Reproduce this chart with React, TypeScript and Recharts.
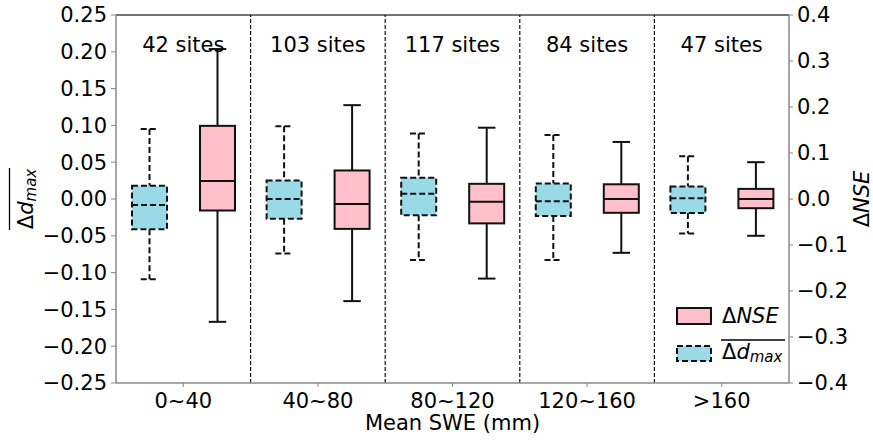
import React from 'react';
import {
  ComposedChart,
  Bar,
  XAxis,
  YAxis,
  ReferenceLine,
  Legend,
} from 'recharts';

const categories = ['0~40', '40~80', '80~120', '120~160', '>160'];
const siteCounts = [42, 103, 117, 84, 47];

// mean Δd_max (left axis)
const dmaxMin = [-0.109, -0.074, -0.083, -0.083, -0.047];
const dmaxQ1 = [-0.041, -0.027, -0.022, -0.023, -0.019];
const dmaxMed = [-0.008, 0.0, 0.007, -0.003, 0.001];
const dmaxQ3 = [0.018, 0.025, 0.029, 0.021, 0.017];
const dmaxMax = [0.095, 0.099, 0.089, 0.087, 0.058];

// ΔNSE (right axis)
const nseMin = [-0.267, -0.222, -0.173, -0.117, -0.08];
const nseQ1 = [-0.025, -0.065, -0.053, -0.03, -0.02];
const nseMed = [0.039, -0.011, -0.006, 0.0, 0.0];
const nseQ3 = [0.159, 0.062, 0.033, 0.032, 0.022];
const nseMax = [0.326, 0.204, 0.155, 0.124, 0.08];

const leftTicks = [-0.25, -0.2, -0.15, -0.1, -0.05, 0, 0.05, 0.1, 0.15, 0.2, 0.25];
const rightTicks = [-0.4, -0.3, -0.2, -0.1, 0, 0.1, 0.2, 0.3, 0.4];

const data = categories.map((c, i) => ({
  cat: c,
  sites: siteCounts[i],
  dmax: { min: dmaxMin[i], q1: dmaxQ1[i], med: dmaxMed[i], q3: dmaxQ3[i], max: dmaxMax[i] },
  nse: { min: nseMin[i], q1: nseQ1[i], med: nseMed[i], q3: nseQ3[i], max: nseMax[i] },
}));

const FONT = 'DejaVu Sans';
const CYAN = '#9AD9E6';
const PINK = '#FFC0CB';
const AXIS_GRAY = '#888888';

const fmt = (d: number) => (v: number) => {
  const s = v.toFixed(d);
  return s.startsWith('-') ? '\u2212' + s.slice(1) : s;
};

const makeBoxShape = (key: 'dmax' | 'nse', fill: string, dashed: boolean) => (props: any) => {
  const { x, y, width, height, payload } = props;
  const st = payload[key];
  const top = Math.min(y, y + height);
  const bottom = Math.max(y, y + height);
  const span = st.max - st.min;
  const py = (v: number) => top + ((bottom - top) * (st.max - v)) / span;
  const cx = x + width / 2;
  const bw = width;
  const cap = width * 0.5;
  const dash = dashed ? '6 3' : undefined;
  const sw = 2;
  const yq3 = py(st.q3);
  const yq1 = py(st.q1);
  const ym = py(st.med);
  return (
    <g>
      <line x1={cx} x2={cx} y1={top} y2={yq3} stroke="#111" strokeWidth={sw} strokeDasharray={dash} />
      <line x1={cx} x2={cx} y1={yq1} y2={bottom} stroke="#111" strokeWidth={sw} strokeDasharray={dash} />
      <line x1={cx - cap / 2} x2={cx + cap / 2} y1={top} y2={top} stroke="#111" strokeWidth={sw} strokeDasharray={dash} />
      <line x1={cx - cap / 2} x2={cx + cap / 2} y1={bottom} y2={bottom} stroke="#111" strokeWidth={sw} strokeDasharray={dash} />
      <rect x={cx - bw / 2} y={yq3} width={bw} height={yq1 - yq3} fill={fill} stroke="#111" strokeWidth={sw} strokeDasharray={dash} />
      <line x1={cx - bw / 2} x2={cx + bw / 2} y1={ym} y2={ym} stroke="#111" strokeWidth={sw} strokeDasharray={dash} />
    </g>
  );
};

const LeftLabel = (props: any) => {
  const vb = props.viewBox || { x: 0, y: 15, width: 116, height: 368 };
  const cy = vb.y + vb.height / 2;
  return (
    <g transform={`translate(0, ${cy}) rotate(-90)`}>
      <line x1={-31} x2={31} y1={9.5} y2={9.5} stroke="#000" strokeWidth={1.3} />
      <text x={0} y={33} textAnchor="middle" fontSize={21} fontFamily={FONT} fill="#000">
        <tspan>Δ</tspan>
        <tspan fontStyle="italic">d</tspan>
        <tspan fontStyle="italic" fontSize={15} dy={3}>max</tspan>
      </text>
    </g>
  );
};

const RightLabel = (props: any) => {
  const vb = props.viewBox || { x: 789, y: 15, width: 84, height: 368 };
  const cy = vb.y + vb.height / 2;
  return (
    <g transform={`translate(0, ${cy}) rotate(-90)`}>
      <text x={0} y={vb.x + 80} textAnchor="middle" fontSize={21} fontFamily={FONT} fill="#000">
        <tspan>Δ</tspan>
        <tspan fontStyle="italic">NSE</tspan>
      </text>
    </g>
  );
};

const XLabel = (props: any) => {
  const vb = props.viewBox || { x: 116, y: 383, width: 673, height: 57 };
  return (
    <text x={vb.x + vb.width / 2} y={vb.y + 47} textAnchor="middle" fontSize={21} fontFamily={FONT} fill="#000">
      Mean SWE (mm)
    </text>
  );
};

const renderLegend = () => (
  <svg width={125} height={75} style={{ display: 'block' }}>
    <rect x={9} y={10} width={34} height={16} fill={PINK} stroke="#111" strokeWidth={2} />
    <text x={54} y={25} fontSize={21} fontFamily={FONT} fill="#000">
      <tspan>Δ</tspan>
      <tspan fontStyle="italic">NSE</tspan>
    </text>
    <rect x={9} y={48} width={34} height={15} fill={CYAN} stroke="#111" strokeWidth={2} strokeDasharray="6 3" />
    <line x1={53} x2={117} y1={42} y2={42} stroke="#000" strokeWidth={1.3} />
    <text x={54} y={61} fontSize={21} fontFamily={FONT} fill="#000">
      <tspan>Δ</tspan>
      <tspan fontStyle="italic">d</tspan>
      <tspan fontStyle="italic" fontSize={15} dy={3}>max</tspan>
    </text>
  </svg>
);

const tickStyle = { fontSize: 21, fontFamily: FONT, fill: '#000' };

export default function App() {
  return (
    <div style={{ position: 'absolute', left: 0, top: 0, width: 873, height: 440 }}>
      <ComposedChart
        width={873}
        height={440}
        data={data}
        margin={{ top: 15, right: 0, bottom: 0, left: 0 }}
        barGap={33}
      >
        <XAxis
          xAxisId="c"
          dataKey="cat"
          type="category"
          height={57}
          tick={tickStyle}
          tickSize={4}
          tickMargin={6}
          axisLine={{ stroke: AXIS_GRAY, strokeWidth: 1.5 }}
          tickLine={{ stroke: AXIS_GRAY }}
          label={<XLabel />}
        />
        <YAxis
          yAxisId="l"
          orientation="left"
          width={116}
          domain={[-0.25, 0.25]}
          ticks={leftTicks}
          allowDataOverflow
          tickFormatter={fmt(2)}
          tick={tickStyle}
          tickSize={5}
          tickMargin={4}
          axisLine={{ stroke: AXIS_GRAY, strokeWidth: 1.5 }}
          tickLine={{ stroke: AXIS_GRAY }}
          label={<LeftLabel />}
        />
        <YAxis
          yAxisId="r"
          orientation="right"
          width={84}
          domain={[-0.4, 0.4]}
          ticks={rightTicks}
          allowDataOverflow
          tickFormatter={fmt(1)}
          tick={tickStyle}
          tickSize={4}
          tickMargin={4}
          axisLine={{ stroke: AXIS_GRAY, strokeWidth: 1.5 }}
          tickLine={{ stroke: AXIS_GRAY }}
          label={<RightLabel />}
        />
        <ReferenceLine yAxisId="l" xAxisId="c" y={0.25} stroke="#444" strokeWidth={1.5} />
        {categories.slice(1).map((c) => (
          <ReferenceLine
            key={'div' + c}
            xAxisId="c"
            yAxisId="l"
            x={c}
            position="start"
            stroke="#111"
            strokeWidth={1.2}
            strokeDasharray="4 2"
          />
        ))}
        {data.map((d) => (
          <ReferenceLine
            key={d.cat}
            xAxisId="c"
            yAxisId="l"
            x={d.cat}
            stroke="none"
            label={(p: any) => (
              <text
                x={p.viewBox.x}
                y={p.viewBox.y + 37}
                textAnchor="middle"
                fontSize={21}
                fontFamily={FONT}
                fill="#000"
              >
                {`${d.sites} sites`}
              </text>
            )}
          />
        ))}
        <Bar
          xAxisId="c"
          yAxisId="l"
          dataKey={(d: any) => [d.dmax.min, d.dmax.max]}
          barSize={35}
          isAnimationActive={false}
          shape={makeBoxShape('dmax', CYAN, true)}
        />
        <Bar
          xAxisId="c"
          yAxisId="r"
          dataKey={(d: any) => [d.nse.min, d.nse.max]}
          barSize={35}
          isAnimationActive={false}
          shape={makeBoxShape('nse', PINK, false)}
        />
        <Legend
          layout="vertical"
          align="center"
          verticalAlign="middle"
          content={renderLegend}
          wrapperStyle={{ left: 668, top: 298, width: 125, height: 75 }}
        />
      </ComposedChart>
    </div>
  );
}
